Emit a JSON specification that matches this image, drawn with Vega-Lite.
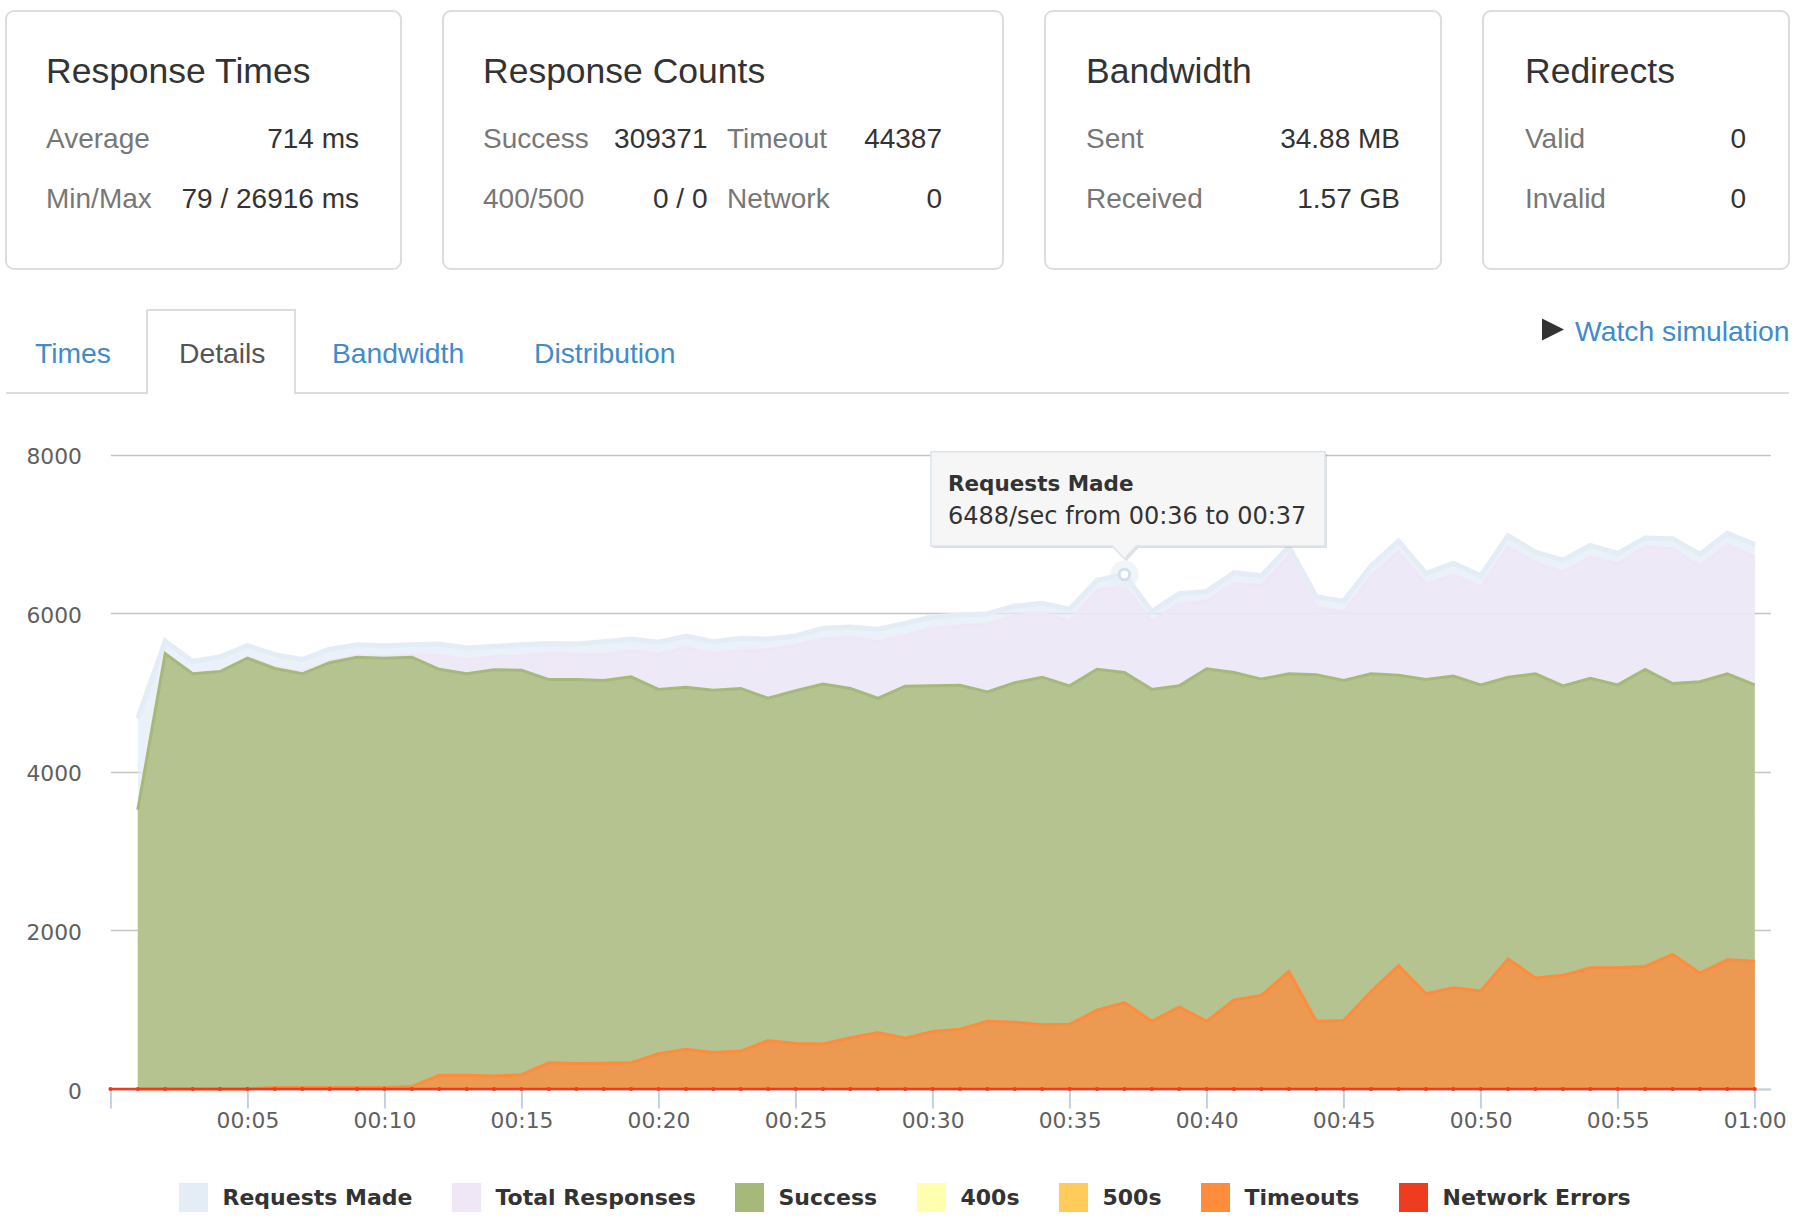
{
"$schema": "https://vega.github.io/schema/vega-lite/v6.json",
"background": "white",
"padding": {"left": 5, "top": 10, "right": 0, "bottom": 0},
"config": {"view": {"stroke": null}},
"datasets": {
"load": [
{"t":0,"Requests Made":null,"Total Responses":null,"Success":null,"400s":0,"500s":0,"Timeouts":null,"Network Errors":0},
{"t":1,"Requests Made":4674,"Total Responses":3522,"Success":3522,"400s":0,"500s":0,"Timeouts":0,"Network Errors":0},
{"t":2,"Requests Made":5646,"Total Responses":5489,"Success":5489,"400s":0,"500s":0,"Timeouts":0,"Network Errors":0},
{"t":3,"Requests Made":5393,"Total Responses":5236,"Success":5236,"400s":0,"500s":0,"Timeouts":0,"Network Errors":0},
{"t":4,"Requests Made":5449,"Total Responses":5264,"Success":5264,"400s":0,"500s":0,"Timeouts":0,"Network Errors":0},
{"t":5,"Requests Made":5590,"Total Responses":5433,"Success":5433,"400s":0,"500s":0,"Timeouts":0,"Network Errors":0},
{"t":6,"Requests Made":5478,"Total Responses":5323,"Success":5303,"400s":0,"500s":0,"Timeouts":20,"Network Errors":0},
{"t":7,"Requests Made":5416,"Total Responses":5256,"Success":5236,"400s":0,"500s":0,"Timeouts":20,"Network Errors":0},
{"t":8,"Requests Made":5545,"Total Responses":5396,"Success":5376,"400s":0,"500s":0,"Timeouts":20,"Network Errors":0},
{"t":9,"Requests Made":5601,"Total Responses":5464,"Success":5444,"400s":0,"500s":0,"Timeouts":20,"Network Errors":0},
{"t":10,"Requests Made":5590,"Total Responses":5453,"Success":5433,"400s":0,"500s":0,"Timeouts":20,"Network Errors":0},
{"t":11,"Requests Made":5601,"Total Responses":5474,"Success":5444,"400s":0,"500s":0,"Timeouts":30,"Network Errors":0},
{"t":12,"Requests Made":5612,"Total Responses":5466,"Success":5292,"400s":0,"500s":0,"Timeouts":174,"Network Errors":0},
{"t":13,"Requests Made":5562,"Total Responses":5410,"Success":5236,"400s":0,"500s":0,"Timeouts":174,"Network Errors":0},
{"t":14,"Requests Made":5584,"Total Responses":5450,"Success":5287,"400s":0,"500s":0,"Timeouts":163,"Network Errors":0},
{"t":15,"Requests Made":5601,"Total Responses":5461,"Success":5281,"400s":0,"500s":0,"Timeouts":180,"Network Errors":0},
{"t":16,"Requests Made":5618,"Total Responses":5494,"Success":5163,"400s":0,"500s":0,"Timeouts":331,"Network Errors":0},
{"t":17,"Requests Made":5612,"Total Responses":5483,"Success":5163,"400s":0,"500s":0,"Timeouts":320,"Network Errors":0},
{"t":18,"Requests Made":5640,"Total Responses":5477,"Success":5152,"400s":0,"500s":0,"Timeouts":325,"Network Errors":0},
{"t":19,"Requests Made":5674,"Total Responses":5528,"Success":5197,"400s":0,"500s":0,"Timeouts":331,"Network Errors":0},
{"t":20,"Requests Made":5635,"Total Responses":5483,"Success":5039,"400s":0,"500s":0,"Timeouts":444,"Network Errors":0},
{"t":21,"Requests Made":5713,"Total Responses":5567,"Success":5067,"400s":0,"500s":0,"Timeouts":500,"Network Errors":0},
{"t":22,"Requests Made":5640,"Total Responses":5489,"Success":5028,"400s":0,"500s":0,"Timeouts":461,"Network Errors":0},
{"t":23,"Requests Made":5685,"Total Responses":5529,"Success":5051,"400s":0,"500s":0,"Timeouts":478,"Network Errors":0},
{"t":24,"Requests Made":5674,"Total Responses":5539,"Success":4927,"400s":0,"500s":0,"Timeouts":612,"Network Errors":0},
{"t":25,"Requests Made":5713,"Total Responses":5595,"Success":5022,"400s":0,"500s":0,"Timeouts":573,"Network Errors":0},
{"t":26,"Requests Made":5809,"Total Responses":5675,"Success":5107,"400s":0,"500s":0,"Timeouts":568,"Network Errors":0},
{"t":27,"Requests Made":5826,"Total Responses":5697,"Success":5051,"400s":0,"500s":0,"Timeouts":646,"Network Errors":0},
{"t":28,"Requests Made":5798,"Total Responses":5640,"Success":4927,"400s":0,"500s":0,"Timeouts":713,"Network Errors":0},
{"t":29,"Requests Made":5871,"Total Responses":5719,"Success":5079,"400s":0,"500s":0,"Timeouts":640,"Network Errors":0},
{"t":30,"Requests Made":5955,"Total Responses":5809,"Success":5084,"400s":0,"500s":0,"Timeouts":725,"Network Errors":0},
{"t":31,"Requests Made":5978,"Total Responses":5843,"Success":5090,"400s":0,"500s":0,"Timeouts":753,"Network Errors":0},
{"t":32,"Requests Made":5994,"Total Responses":5860,"Success":5006,"400s":0,"500s":0,"Timeouts":854,"Network Errors":0},
{"t":33,"Requests Made":6090,"Total Responses":5967,"Success":5124,"400s":0,"500s":0,"Timeouts":843,"Network Errors":0},
{"t":34,"Requests Made":6124,"Total Responses":6000,"Success":5191,"400s":0,"500s":0,"Timeouts":809,"Network Errors":0},
{"t":35,"Requests Made":6051,"Total Responses":5899,"Success":5084,"400s":0,"500s":0,"Timeouts":815,"Network Errors":0},
{"t":36,"Requests Made":6416,"Total Responses":6286,"Success":5292,"400s":0,"500s":0,"Timeouts":994,"Network Errors":0},
{"t":37,"Requests Made":6488,"Total Responses":6343,"Success":5253,"400s":0,"500s":0,"Timeouts":1090,"Network Errors":0},
{"t":38,"Requests Made":6023,"Total Responses":5893,"Success":5039,"400s":0,"500s":0,"Timeouts":854,"Network Errors":0},
{"t":39,"Requests Made":6247,"Total Responses":6118,"Success":5084,"400s":0,"500s":0,"Timeouts":1034,"Network Errors":0},
{"t":40,"Requests Made":6275,"Total Responses":6152,"Success":5298,"400s":0,"500s":0,"Timeouts":854,"Network Errors":0},
{"t":41,"Requests Made":6511,"Total Responses":6377,"Success":5253,"400s":0,"500s":0,"Timeouts":1124,"Network Errors":0},
{"t":42,"Requests Made":6472,"Total Responses":6349,"Success":5169,"400s":0,"500s":0,"Timeouts":1180,"Network Errors":0},
{"t":43,"Requests Made":6837,"Total Responses":6719,"Success":5236,"400s":0,"500s":0,"Timeouts":1483,"Network Errors":0},
{"t":44,"Requests Made":6208,"Total Responses":6079,"Success":5225,"400s":0,"500s":0,"Timeouts":854,"Network Errors":0},
{"t":45,"Requests Made":6152,"Total Responses":6017,"Success":5152,"400s":0,"500s":0,"Timeouts":865,"Network Errors":0},
{"t":46,"Requests Made":6596,"Total Responses":6466,"Success":5236,"400s":0,"500s":0,"Timeouts":1230,"Network Errors":0},
{"t":47,"Requests Made":6910,"Total Responses":6775,"Success":5219,"400s":0,"500s":0,"Timeouts":1556,"Network Errors":0},
{"t":48,"Requests Made":6500,"Total Responses":6365,"Success":5163,"400s":0,"500s":0,"Timeouts":1202,"Network Errors":0},
{"t":49,"Requests Made":6629,"Total Responses":6483,"Success":5208,"400s":0,"500s":0,"Timeouts":1275,"Network Errors":0},
{"t":50,"Requests Made":6472,"Total Responses":6332,"Success":5096,"400s":0,"500s":0,"Timeouts":1236,"Network Errors":0},
{"t":51,"Requests Made":6978,"Total Responses":6831,"Success":5191,"400s":0,"500s":0,"Timeouts":1640,"Network Errors":0},
{"t":52,"Requests Made":6770,"Total Responses":6635,"Success":5236,"400s":0,"500s":0,"Timeouts":1399,"Network Errors":0},
{"t":53,"Requests Made":6669,"Total Responses":6517,"Success":5084,"400s":0,"500s":0,"Timeouts":1433,"Network Errors":0},
{"t":54,"Requests Made":6854,"Total Responses":6708,"Success":5180,"400s":0,"500s":0,"Timeouts":1528,"Network Errors":0},
{"t":55,"Requests Made":6753,"Total Responses":6624,"Success":5096,"400s":0,"500s":0,"Timeouts":1528,"Network Errors":0},
{"t":56,"Requests Made":6949,"Total Responses":6837,"Success":5292,"400s":0,"500s":0,"Timeouts":1545,"Network Errors":0},
{"t":57,"Requests Made":6938,"Total Responses":6809,"Success":5112,"400s":0,"500s":0,"Timeouts":1697,"Network Errors":0},
{"t":58,"Requests Made":6742,"Total Responses":6596,"Success":5135,"400s":0,"500s":0,"Timeouts":1461,"Network Errors":0},
{"t":59,"Requests Made":7006,"Total Responses":6865,"Success":5236,"400s":0,"500s":0,"Timeouts":1629,"Network Errors":0},
{"t":60,"Requests Made":6865,"Total Responses":6708,"Success":5096,"400s":0,"500s":0,"Timeouts":1612,"Network Errors":0}
]
},
"spacing": 39,
"resolve": {"scale": {"x": "independent", "y": "independent"}},
"vconcat": [
{
"hconcat": [
{
"width": 395, "height": 258,
"view": {"stroke": "#dddddd", "strokeWidth": 2, "cornerRadius": 8},
"data": {"values": [
{"k":"t","c":1,"r":0,"s":"Response Times"},
{"k":"l","c":1,"r":1,"s":"Average"},{"k":"v","c":2,"r":1,"s":"714 ms"},
{"k":"l","c":1,"r":2,"s":"Min/Max"},{"k":"v","c":2,"r":2,"s":"79 / 26916 ms"}
]},
"encoding": {
"x": {"field": "c", "type": "quantitative", "scale": {"domain": [1, 2], "range": [40, 353], "nice": false, "zero": false}, "axis": null},
"y": {"field": "r", "type": "quantitative", "scale": {"domain": [0, 1, 2], "range": [72, 137, 197], "nice": false, "zero": false}, "axis": null},
"text": {"field": "s"}
},
"layer": [
{"transform": [{"filter": "datum.k === 't'"}], "mark": {"type": "text", "align": "left", "baseline": "alphabetic", "font": "Liberation Sans", "fontSize": 35.5, "color": "#333333"}},
{"transform": [{"filter": "datum.k === 'l'"}], "mark": {"type": "text", "align": "left", "baseline": "alphabetic", "font": "Liberation Sans", "fontSize": 28, "color": "#777777"}},
{"transform": [{"filter": "datum.k === 'v'"}], "mark": {"type": "text", "align": "right", "baseline": "alphabetic", "font": "Liberation Sans", "fontSize": 28, "color": "#333333"}}
]
},
{
"width": 560, "height": 258,
"view": {"stroke": "#dddddd", "strokeWidth": 2, "cornerRadius": 8},
"data": {"values": [
{"k":"t","c":1,"r":0,"s":"Response Counts"},
{"k":"l","c":1,"r":1,"s":"Success"},{"k":"v","c":2,"r":1,"s":"309371"},{"k":"l","c":3,"r":1,"s":"Timeout"},{"k":"v","c":4,"r":1,"s":"44387"},
{"k":"l","c":1,"r":2,"s":"400/500"},{"k":"v","c":2,"r":2,"s":"0 / 0"},{"k":"l","c":3,"r":2,"s":"Network"},{"k":"v","c":4,"r":2,"s":"0"}
]},
"encoding": {
"x": {"field": "c", "type": "quantitative", "scale": {"domain": [1, 2, 3, 4], "range": [40, 264.5, 284, 499], "nice": false, "zero": false}, "axis": null},
"y": {"field": "r", "type": "quantitative", "scale": {"domain": [0, 1, 2], "range": [72, 137, 197], "nice": false, "zero": false}, "axis": null},
"text": {"field": "s"}
},
"layer": [
{"transform": [{"filter": "datum.k === 't'"}], "mark": {"type": "text", "align": "left", "baseline": "alphabetic", "font": "Liberation Sans", "fontSize": 35.5, "color": "#333333"}},
{"transform": [{"filter": "datum.k === 'l'"}], "mark": {"type": "text", "align": "left", "baseline": "alphabetic", "font": "Liberation Sans", "fontSize": 28, "color": "#777777"}},
{"transform": [{"filter": "datum.k === 'v'"}], "mark": {"type": "text", "align": "right", "baseline": "alphabetic", "font": "Liberation Sans", "fontSize": 28, "color": "#333333"}}
]
},
{
"width": 396, "height": 258,
"view": {"stroke": "#dddddd", "strokeWidth": 2, "cornerRadius": 8},
"data": {"values": [
{"k":"t","c":1,"r":0,"s":"Bandwidth"},
{"k":"l","c":1,"r":1,"s":"Sent"},{"k":"v","c":2,"r":1,"s":"34.88 MB"},
{"k":"l","c":1,"r":2,"s":"Received"},{"k":"v","c":2,"r":2,"s":"1.57 GB"}
]},
"encoding": {
"x": {"field": "c", "type": "quantitative", "scale": {"domain": [1, 2], "range": [41, 355], "nice": false, "zero": false}, "axis": null},
"y": {"field": "r", "type": "quantitative", "scale": {"domain": [0, 1, 2], "range": [72, 137, 197], "nice": false, "zero": false}, "axis": null},
"text": {"field": "s"}
},
"layer": [
{"transform": [{"filter": "datum.k === 't'"}], "mark": {"type": "text", "align": "left", "baseline": "alphabetic", "font": "Liberation Sans", "fontSize": 35.5, "color": "#333333"}},
{"transform": [{"filter": "datum.k === 'l'"}], "mark": {"type": "text", "align": "left", "baseline": "alphabetic", "font": "Liberation Sans", "fontSize": 28, "color": "#777777"}},
{"transform": [{"filter": "datum.k === 'v'"}], "mark": {"type": "text", "align": "right", "baseline": "alphabetic", "font": "Liberation Sans", "fontSize": 28, "color": "#333333"}}
]
},
{
"width": 306, "height": 258,
"view": {"stroke": "#dddddd", "strokeWidth": 2, "cornerRadius": 8},
"data": {"values": [
{"k":"t","c":1,"r":0,"s":"Redirects"},
{"k":"l","c":1,"r":1,"s":"Valid"},{"k":"v","c":2,"r":1,"s":"0"},
{"k":"l","c":1,"r":2,"s":"Invalid"},{"k":"v","c":2,"r":2,"s":"0"}
]},
"encoding": {
"x": {"field": "c", "type": "quantitative", "scale": {"domain": [1, 2], "range": [42, 263], "nice": false, "zero": false}, "axis": null},
"y": {"field": "r", "type": "quantitative", "scale": {"domain": [0, 1, 2], "range": [72, 137, 197], "nice": false, "zero": false}, "axis": null},
"text": {"field": "s"}
},
"layer": [
{"transform": [{"filter": "datum.k === 't'"}], "mark": {"type": "text", "align": "left", "baseline": "alphabetic", "font": "Liberation Sans", "fontSize": 35.5, "color": "#333333"}},
{"transform": [{"filter": "datum.k === 'l'"}], "mark": {"type": "text", "align": "left", "baseline": "alphabetic", "font": "Liberation Sans", "fontSize": 28, "color": "#777777"}},
{"transform": [{"filter": "datum.k === 'v'"}], "mark": {"type": "text", "align": "right", "baseline": "alphabetic", "font": "Liberation Sans", "fontSize": 28, "color": "#333333"}}
]
}
],
"spacing": 40,
"resolve": {"scale": {"x": "independent", "y": "independent"}}
},
{
"width": 1783, "height": 83,
"view": {"stroke": null},
"layer": [
{
"data": {"values": [{"r": 3}]},
"mark": {"type": "rule", "color": "#dddddd", "strokeWidth": 2},
"encoding": {"y": {"field": "r", "type": "quantitative", "scale": {"domain": [0, 1, 2, 3], "range": [19.5, 31, 53, 83], "nice": false, "zero": false}, "axis": null}}
},
{
"data": {"values": [{"tab": "Details"}]},
"mark": {"type": "rect", "fill": "white", "stroke": "#dddddd", "strokeWidth": 2, "strokeDash": [232.2, 148, 84.2]},
"encoding": {
"x": {"field": "tab", "type": "nominal", "scale": {"type": "band", "domain": ["Details"], "range": [141, 289], "paddingInner": 0, "paddingOuter": 0}, "axis": null},
"y": {"field": "tab", "type": "nominal", "scale": {"type": "band", "domain": ["Details"], "range": [0, 84.2], "paddingInner": 0, "paddingOuter": 0}, "axis": null}
}
},
{
"data": {"values": [
{"p": 1, "r": 2, "s": "Times", "k": "link"},
{"p": 2, "r": 2, "s": "Details", "k": "active"},
{"p": 3, "r": 2, "s": "Bandwidth", "k": "link"},
{"p": 4, "r": 2, "s": "Distribution", "k": "link"},
{"p": 5, "r": 0, "s": "", "k": "icon"},
{"p": 6, "r": 1, "s": "Watch simulation", "k": "link"}
]},
"encoding": {
"x": {"field": "p", "type": "quantitative", "scale": {"domain": [1, 2, 3, 4, 5, 6], "range": [29, 173, 326, 528, 1547, 1569], "nice": false, "zero": false}, "axis": null},
"y": {"field": "r", "type": "quantitative", "scale": {"domain": [0, 1, 2, 3], "range": [19.5, 31, 53, 83], "nice": false, "zero": false}, "axis": null}
},
"layer": [
{"transform": [{"filter": "datum.k === 'link'"}], "mark": {"type": "text", "align": "left", "baseline": "alphabetic", "font": "Liberation Sans", "fontSize": 28.3, "color": "#428bca"}, "encoding": {"text": {"field": "s"}}},
{"transform": [{"filter": "datum.k === 'active'"}], "mark": {"type": "text", "align": "left", "baseline": "alphabetic", "font": "Liberation Sans", "fontSize": 28.3, "color": "#555555"}, "encoding": {"text": {"field": "s"}}},
{"transform": [{"filter": "datum.k === 'icon'"}], "mark": {"type": "point", "shape": "M-1,-1L1,0L-1,1Z", "size": 484, "filled": true, "color": "#333333", "opacity": 1}}
]
}
],
"resolve": {"scale": {"x": "independent", "y": "independent"}}
},
{
"hconcat": [
{"width": 1, "height": 1, "view": {"stroke": null}, "data": {"values": []}, "mark": {"type": "point", "opacity": 0}},
{
"width": 1660, "height": 654,
"view": {"stroke": null},
"layer": [
{
"data": {"name": "load"},
"transform": [{"fold": ["Requests Made", "Total Responses", "Success", "400s", "500s", "Timeouts", "Network Errors"], "as": ["series", "value"]}],
"encoding": {
"x": {"field": "t", "type": "quantitative", "scale": {"domain": [0, 60.57], "nice": false, "zero": false},
"axis": {"values": [0,5,10,15,20,25,30,35,40,45,50,55,60], "title": null, "grid": false, "domainColor": "#c0d0e0", "domainWidth": 2, "tickColor": "#c0d0e0", "tickWidth": 2, "tickSize": 19, "labelFont": "DejaVu Sans", "labelFontSize": 21.8, "labelColor": "#606060", "labelPadding": 2, "labelFlush": false, "labelOverlap": false,
"labelExpr": "datum.value == 0 ? '' : (datum.value == 60 ? '01:00' : '00:' + (datum.value < 10 ? '0' : '') + datum.value)"}},
"y": {"field": "value", "type": "quantitative", "stack": null, "scale": {"domain": [0, 8247], "nice": false, "zero": false},
"axis": {"values": [0, 2000, 4000, 6000, 8000], "format": "d", "title": null, "domain": false, "ticks": false, "grid": true, "gridColor": "#c4c4c4", "gridWidth": 1.5, "labelFont": "DejaVu Sans", "labelFontSize": 21.8, "labelColor": "#606060", "labelPadding": 29, "labelOffset": 2}},
"color": {"field": "series", "type": "nominal",
"scale": {"domain": ["Requests Made", "Total Responses", "Success", "400s", "500s", "Timeouts", "Network Errors"], "range": ["#e4ecf6", "#efe6f6", "#a6b978", "#ffffb0", "#ffcc5c", "#ff8c3c", "#f03c1e"]},
"legend": {"orient": "none", "legendX": 173, "legendY": 1172, "direction": "horizontal", "title": null, "symbolType": "square", "symbolSize": 841, "symbolStrokeWidth": 0, "symbolOpacity": 1, "labelFont": "DejaVu Sans", "labelFontSize": 22, "labelFontWeight": "bold", "labelColor": "#333333", "labelOffset": 14.5, "columnPadding": 39, "labelLimit": 0,
"encode": {"symbols": {"update": {"fill": {"scale": "color", "field": "value"}, "fillOpacity": {"value": 1}, "opacity": {"value": 1}, "strokeWidth": {"value": 0}}}}}
}
},
"layer": [
{"transform": [{"filter": "datum.series === 'Requests Made'"}], "mark": {"type": "area", "fillOpacity": 0.75}},
{"transform": [{"filter": "datum.series === 'Requests Made'"}], "mark": {"type": "line", "strokeWidth": 5}},
{"transform": [{"filter": "datum.series === 'Total Responses'"}], "mark": {"type": "area", "fillOpacity": 0.75}},
{"transform": [{"filter": "datum.series === 'Total Responses'"}], "mark": {"type": "line", "strokeWidth": 3}},
{"transform": [{"filter": "datum.series === 'Success'"}], "mark": {"type": "area", "fillOpacity": 0.8}},
{"transform": [{"filter": "datum.series === 'Success'"}], "mark": {"type": "line", "strokeWidth": 3}},
{"transform": [{"filter": "datum.series === '400s'"}], "mark": {"type": "line", "strokeWidth": 2}},
{"transform": [{"filter": "datum.series === '500s'"}], "mark": {"type": "line", "strokeWidth": 2}},
{"transform": [{"filter": "datum.series === 'Timeouts'"}], "mark": {"type": "area", "fillOpacity": 0.75}},
{"transform": [{"filter": "datum.series === 'Timeouts'"}], "mark": {"type": "line", "strokeWidth": 3}},
{"transform": [{"filter": "datum.series === 'Network Errors'"}], "mark": {"type": "line", "strokeWidth": 2.5, "point": {"size": 16, "filled": true}}}
]
},
{
"data": {"values": [{"t": 37, "value": 6488, "title": "Requests Made", "line": "6488/sec from 00:36 to 00:37"}]},
"encoding": {
"x": {"field": "t", "type": "quantitative"},
"y": {"field": "value", "type": "quantitative"}
},
"layer": [
{"mark": {"type": "point", "shape": "circle", "size": 800, "filled": true, "color": "#e6eef6", "opacity": 0.6}},
{"mark": {"type": "point", "shape": "circle", "size": 110, "filled": true, "fill": "#ffffff", "stroke": "#d3dfea", "strokeWidth": 3, "opacity": 1}},
{"mark": {"type": "point", "shape": "M-0.957,-0.604L1.013,-0.604L1.013,-0.1325L0.07,-0.1325L0.01,-0.0675L-0.05,-0.1325L-0.957,-0.1325Z", "size": 160000, "filled": true, "color": "#000000", "opacity": 0.12}},
{"mark": {"type": "point", "shape": "M-0.967,-0.614L1.003,-0.614L1.003,-0.1425L0.06,-0.1425L0,-0.0775L-0.06,-0.1425L-0.967,-0.1425Z", "size": 160000, "filled": true, "fill": "#f7f7f7", "fillOpacity": 0.95, "stroke": "#dbe4ee", "strokeWidth": 1.5, "opacity": 1}},
{"mark": {"type": "text", "align": "left", "baseline": "alphabetic", "dx": -176.5, "dy": -83.5, "font": "DejaVu Sans", "fontSize": 21.5, "fontWeight": "bold", "color": "#333333"}, "encoding": {"text": {"field": "title"}}},
{"mark": {"type": "text", "align": "left", "baseline": "alphabetic", "dx": -176.5, "dy": -50.5, "font": "DejaVu Sans", "fontSize": 24, "color": "#333333"}, "encoding": {"text": {"field": "line"}}}
]
}
]
}
],
"spacing": 18.4,
"resolve": {"scale": {"x": "independent", "y": "independent"}}
}
]
}
